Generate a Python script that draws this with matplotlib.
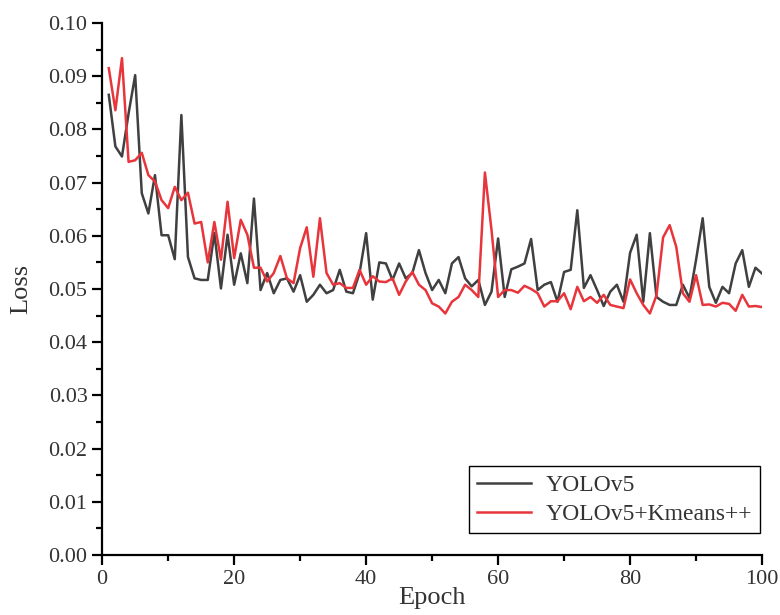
import matplotlib.pyplot as plt
from matplotlib.ticker import MultipleLocator, FuncFormatter

plt.rcParams['font.family'] = ['Liberation Serif', 'DejaVu Serif']

epochs = list(range(1, 101))

# YOLOv5 loss per epoch
loss_yolo = [
    0.0865, 0.0768, 0.0749, 0.0830, 0.0902, 0.0680, 0.0642, 0.0714, 0.0601, 0.0601,
    0.0556, 0.0827, 0.0560, 0.0520, 0.0517, 0.0517, 0.0605, 0.0501, 0.0602, 0.0508,
    0.0567, 0.0511, 0.0670, 0.0498, 0.0530, 0.0492, 0.0517, 0.0520, 0.0495, 0.0526,
    0.0476, 0.0489, 0.0508, 0.0492, 0.0498, 0.0536, 0.0495, 0.0492, 0.0530, 0.0605,
    0.0480, 0.0550, 0.0548, 0.0517, 0.0548, 0.0520, 0.0530, 0.0573, 0.0530, 0.0498,
    0.0517, 0.0492, 0.0548, 0.0560, 0.0520, 0.0505, 0.0517, 0.0470, 0.0495, 0.0595,
    0.0485, 0.0537, 0.0542, 0.0548, 0.0594, 0.0498, 0.0508, 0.0513, 0.0476, 0.0532,
    0.0536, 0.0648, 0.0502, 0.0526, 0.0498, 0.0468, 0.0495, 0.0508, 0.0476, 0.0568,
    0.0602, 0.0476, 0.0605, 0.0485, 0.0476, 0.0470, 0.0470, 0.0508, 0.0483, 0.0555,
    0.0633, 0.0504, 0.0474, 0.0504, 0.0492, 0.0548, 0.0573, 0.0504, 0.0540, 0.0529,
]

# YOLOv5+Kmeans++ loss per epoch
loss_kmeans = [
    0.0915, 0.0836, 0.0934, 0.0739, 0.0742, 0.0756, 0.0714, 0.0702, 0.0667, 0.0652,
    0.0692, 0.0667, 0.0681, 0.0623, 0.0626, 0.0550, 0.0626, 0.0555, 0.0664, 0.0558,
    0.0630, 0.0602, 0.0540, 0.0540, 0.0514, 0.0530, 0.0562, 0.0520, 0.0511, 0.0577,
    0.0616, 0.0523, 0.0633, 0.0530, 0.0508, 0.0511, 0.0502, 0.0502, 0.0536, 0.0508,
    0.0524, 0.0514, 0.0513, 0.0520, 0.0489, 0.0514, 0.0532, 0.0508, 0.0498, 0.0473,
    0.0467, 0.0454, 0.0476, 0.0485, 0.0508, 0.0498, 0.0485, 0.0719, 0.0611, 0.0485,
    0.0498, 0.0498, 0.0493, 0.0506, 0.0500, 0.0492, 0.0467, 0.0477, 0.0477, 0.0492,
    0.0462, 0.0504, 0.0477, 0.0485, 0.0474, 0.0489, 0.0470, 0.0467, 0.0464, 0.0518,
    0.0492, 0.0470, 0.0454, 0.0488, 0.0597, 0.0620, 0.0579, 0.0492, 0.0476, 0.0526,
    0.0470, 0.0471, 0.0467, 0.0474, 0.0472, 0.0459, 0.0489, 0.0467, 0.0468, 0.0466,
]

fig = plt.figure(figsize=(7.8, 6.15), dpi=100)
ax = fig.add_axes([0.131, 0.0976, 0.846, 0.865])

ax.plot(epochs, loss_yolo, color='#404040', lw=1.8, label='YOLOv5')
ax.plot(epochs, loss_kmeans, color='#e8353b', lw=1.8, label='YOLOv5+Kmeans++')

ax.set_xlim(0, 100)
ax.set_ylim(0, 0.10)
ax.xaxis.set_major_locator(MultipleLocator(20))
ax.xaxis.set_minor_locator(MultipleLocator(10))
ax.yaxis.set_major_locator(MultipleLocator(0.01))
ax.yaxis.set_minor_locator(MultipleLocator(0.005))
ax.yaxis.set_major_formatter(FuncFormatter(lambda v, p: '%.2f' % v))

ax.spines['top'].set_visible(False)
ax.spines['right'].set_visible(False)
ax.spines['left'].set_linewidth(1.6)
ax.spines['bottom'].set_linewidth(1.6)
ax.tick_params(which='major', direction='out', length=7, width=1.6,
               labelsize=16, colors='black', labelcolor='#333333')
ax.tick_params(which='minor', direction='out', length=4, width=1.6)

ax.set_xlabel('Epoch', fontsize=19, color='#333333', labelpad=-1)
ax.set_ylabel('Loss', fontsize=19, color='#333333', labelpad=12)

leg = ax.legend(loc='lower right', bbox_to_anchor=(0.997, 0.041), borderaxespad=0,
                fontsize=17, fancybox=False, edgecolor='black', framealpha=1,
                handlelength=2.3, handletextpad=0.6, borderpad=0.35,
                labelspacing=0.3)
leg.get_frame().set_linewidth(1.0)
for t in leg.get_texts():
    t.set_color('#333333')

fig.savefig('out.png', dpi=100)
